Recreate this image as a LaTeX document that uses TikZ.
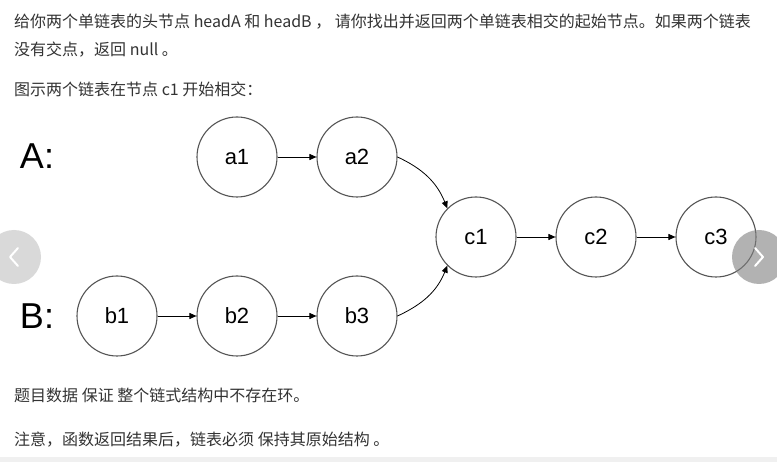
\documentclass[tikz,border=0pt]{standalone}
\usepackage{fontspec}
\setmainfont{Liberation Sans}
\newfontfamily\cjk{Noto Sans CJK SC}
\usetikzlibrary{arrows.meta}
\definecolor{txt}{HTML}{333333}
\definecolor{ring}{HTML}{555555}
\begin{document}
\begin{tikzpicture}[x=1pt,y=-1pt,
  lnode/.style={circle,draw=ring,line width=1.1pt,minimum size=80pt,inner sep=0pt,
    font=\fontsize{22}{24}\selectfont},
  link/.style={-{Triangle[length=7pt,width=6pt]},line width=0.8pt,black},
  para/.style={anchor=base west,inner sep=0pt,text=txt,font=\cjk\fontsize{16}{18}\selectfont},
  big/.style={anchor=center,inner sep=0pt,font=\fontsize{36}{40}\selectfont},
  navbtn/.style={circle,minimum size=54pt,inner sep=0pt},
  chev/.style={white,line width=2pt,line cap=round,line join=round}]
\useasboundingbox (0,0) rectangle (777,462);
\fill[white] (0,0) rectangle (777,462);
\fill[black!6] (0,457) rectangle (777,462);

% description text
\node[para] (t1) at (14,28) {给你两个单链表的头节点 headA 和 headB ， 请你找出并返回两个单链表相交的起始节点。如果两个链表};
\node[para] (t2) at (14,56) {没有交点，返回 null 。};
\node[para] (t3) at (14,96) {图示两个链表在节点 c1 开始相交：};
\node[para] (t4) at (14,402) {题目数据 保证 整个链式结构中不存在环。};
\node[para] (t5) at (14,446) {注意，函数返回结果后，链表必须 保持其原始结构 。};

% list labels
\node[big] (la) at (37,156) {A:};
\node[big] (lb) at (37,316) {B:};

% list nodes
\node[lnode] (a1) at (237,157) {a1};
\node[lnode] (a2) at (357,157) {a2};
\node[lnode] (b1) at (117,316) {b1};
\node[lnode] (b2) at (237,316) {b2};
\node[lnode] (b3) at (357,316) {b3};
\node[lnode] (c1) at (476,237) {c1};
\node[lnode] (c2) at (596,237) {c2};
\node[lnode] (c3) at (716,237) {c3};

% links
\draw[link] (a1) -- (a2);
\draw[link] (b1) -- (b2);
\draw[link] (b2) -- (b3);
\draw[link] (c1) -- (c2);
\draw[link] (c2) -- (c3);
\draw[link] (a2.east) to[out=-25,in=112] (c1.135);
\draw[link] (b3.east) to[out=25,in=-112] (c1.225);

% carousel buttons
\node[navbtn,fill=black!15] (prev) at (14,257) {};
\draw[chev] ([xshift=4pt,yshift=9pt]prev.center) -- ([xshift=-4pt]prev.center) -- ([xshift=4pt,yshift=-9pt]prev.center);
\node[navbtn,fill=black!50,fill opacity=0.6] (next) at (759,257) {};
\draw[chev] ([xshift=-4pt,yshift=9pt]next.center) -- ([xshift=4pt]next.center) -- ([xshift=-4pt,yshift=-9pt]next.center);
\end{tikzpicture}
\end{document}
